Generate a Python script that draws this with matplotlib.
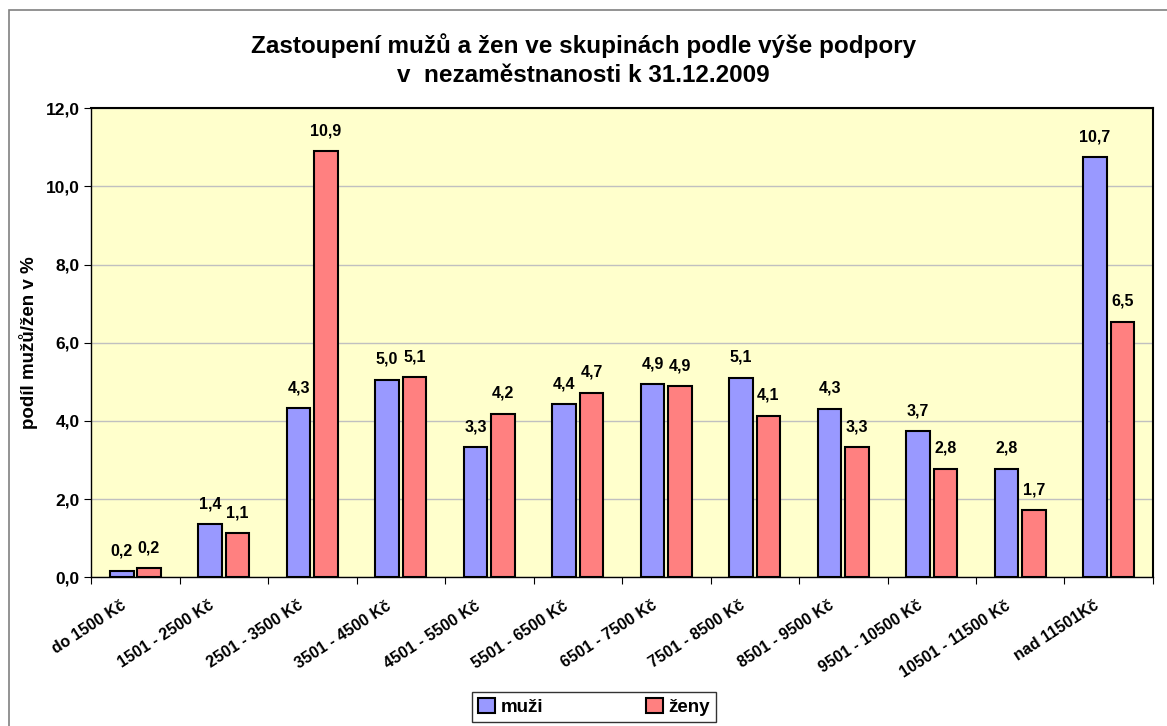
import matplotlib.pyplot as plt
import numpy as np
from matplotlib.patches import Rectangle

plt.rcParams['font.family'] = ['Liberation Sans', 'DejaVu Sans']

# skupiny podle výše podpory
kategorie = ["do 1500 Kč", "1501 - 2500 Kč", "2501 - 3500 Kč", "3501 - 4500 Kč",
             "4501 - 5500 Kč", "5501 - 6500 Kč", "6501 - 7500 Kč", "7501 - 8500 Kč",
             "8501 - 9500 Kč", "9501 - 10500 Kč", "10501 - 11500 Kč", "nad 11501Kč"]

# podíly v %
muzi = [0.16, 1.36, 4.33, 5.05, 3.32, 4.43, 4.94, 5.10, 4.31, 3.74, 2.78, 10.74]
zeny = [0.23, 1.13, 10.90, 5.12, 4.18, 4.72, 4.89, 4.13, 3.32, 2.78, 1.72, 6.54]

fig = plt.figure(figsize=(11.67, 7.26), dpi=100)
ax = fig.add_axes([0.078, 0.205, 0.910, 0.646])

# rámeček kolem celého grafu
fig.patches.append(Rectangle((9 / 1167, -0.1), 1.2, 1 - 10 / 726 + 0.1,
                             transform=fig.transFigure, fill=False,
                             edgecolor="#808080", linewidth=1.2))

ax.set_facecolor("#FFFFCC")
x = np.arange(len(kategorie))
w = 0.27
b1 = ax.bar(x - 0.155, muzi, w, color="#9999FF", edgecolor="black", linewidth=1.5, label="muži", zorder=3)
b2 = ax.bar(x + 0.155, zeny, w, color="#FF8080", edgecolor="black", linewidth=1.5, label="ženy", zorder=3)

for bars, vals in [(b1, muzi), (b2, zeny)]:
    for r, v in zip(bars, vals):
        ax.text(r.get_x() + r.get_width() / 2, v + 0.33, f"{v:.1f}".replace(".", ","),
                ha="center", va="bottom", fontsize=11.5, fontweight="bold")

ax.set_xlim(-0.5, len(kategorie) - 0.5)
ax.set_ylim(0, 12)
ax.set_yticks(np.arange(0, 12.1, 2))
ax.set_yticklabels([f"{t:.1f}".replace(".", ",") for t in np.arange(0, 12.1, 2)],
                   fontsize=12.5, fontweight="bold")
ax.set_xticks(np.arange(-0.5, len(kategorie)), minor=False)
ax.set_xticklabels([])
ax.set_xticks(x - 0.17, minor=True)
ax.set_xticklabels(kategorie, minor=True, rotation=33, ha="right", va="top",
                   rotation_mode="anchor", fontsize=11.5, fontweight="bold")
ax.tick_params(axis="x", which="minor", length=0, pad=15)
ax.tick_params(axis="x", which="major", length=5, direction="out", color="black")
ax.tick_params(axis="y", length=5, direction="out", pad=3)
ax.yaxis.grid(True, color="#C0C0C0", linewidth=1, zorder=0)
ax.set_axisbelow(True)
for s in ax.spines.values():
    s.set_linewidth(1.5)
ax.spines["left"].set_linewidth(1.0)
ax.spines["bottom"].set_linewidth(1.0)

ax.set_ylabel("podíl mužů/žen v %", fontsize=13.5, fontweight="bold", labelpad=6)

fig.text(0.5, 1 - 60 / 726, "Zastoupení mužů a žen ve skupinách podle výše podpory\nv  nezaměstnanosti k 31.12.2009",
         ha="center", va="center", fontsize=17.5, fontweight="bold", linespacing=1.3)

leg = fig.legend(handles=[b1, b2], loc="center", bbox_to_anchor=(594 / 1167, 1 - 707 / 726),
                 ncol=2, prop={"weight": "bold", "size": 13.5}, frameon=True,
                 fancybox=False, edgecolor="black", handlelength=0.9, handleheight=0.9,
                 handletextpad=0.3, columnspacing=5.5, borderpad=0.3)
leg.get_frame().set_linewidth(1.0)

fig.savefig("out.png", dpi=100)
